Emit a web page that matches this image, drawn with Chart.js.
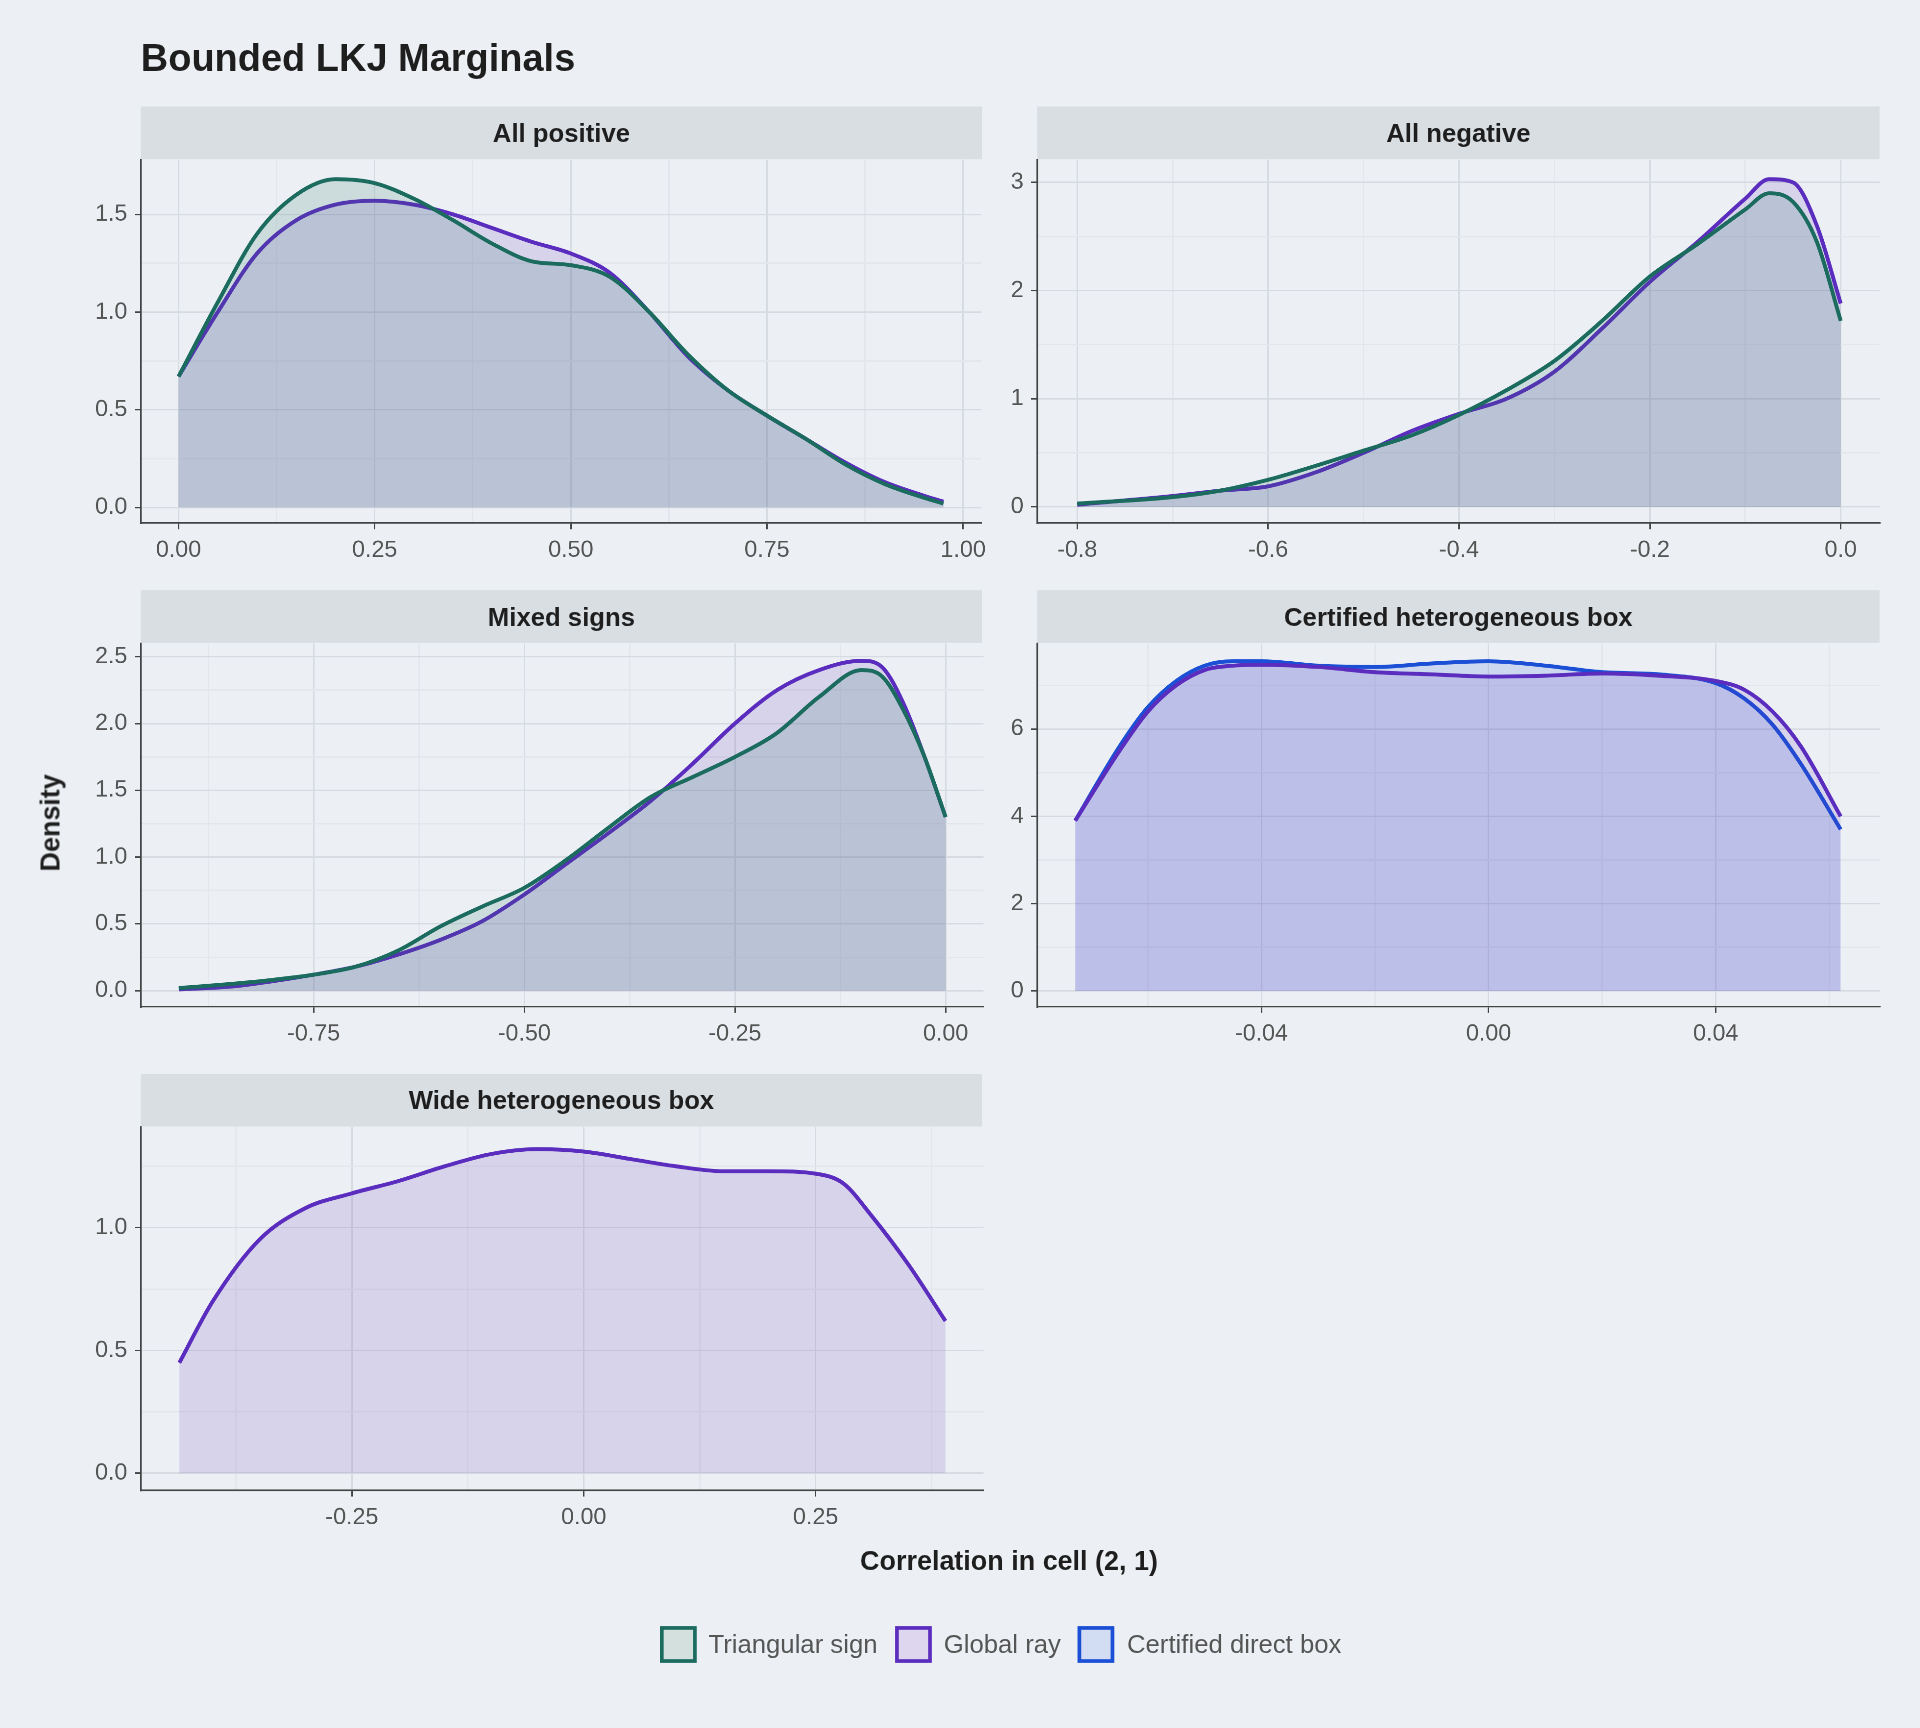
<!DOCTYPE html>
<html><head><meta charset="utf-8">
<script src="https://cdn.jsdelivr.net/npm/chart.js@4"></script>
<style>
body{margin:0;background:#ECF0F4;font-family:"Liberation Sans",Arial,sans-serif;}
#wrap{position:absolute;left:0;top:0;width:1568px;height:1411px;transform:scale(1.22449);transform-origin:0 0;}
.strip{position:absolute;height:43px;background:#D9DEE3;color:#1E1E1E;font-weight:bold;font-size:21px;display:flex;align-items:center;justify-content:center;}
.cv{position:absolute;width:771px;height:357px;}
#title{position:absolute;left:115px;top:30px;font-size:31px;font-weight:bold;color:#1E1E1E;}
#xl{position:absolute;left:0;width:1648px;top:1262px;text-align:center;font-size:22px;font-weight:bold;color:#1E1E1E;}
#yl{position:absolute;left:42px;top:672px;transform:translate(-50%,-50%) rotate(-90deg);font-size:22px;font-weight:bold;color:#1E1E1E;}
#legend{position:absolute;top:1328px;left:0;width:1648px;display:flex;justify-content:center;align-items:center;font-size:21px;color:#555;}
#legend span.b{display:inline-block;width:30px;height:30px;border:3px solid;margin:0 10px 0 0;box-sizing:border-box;}
#legend span.t{margin-right:14px;}
</style></head><body>
<div id="wrap">
<div id="title">Bounded LKJ Marginals</div>
<div class="strip" style="left:115px;top:87px;width:687px">All positive</div>
<div class="strip" style="left:847px;top:87px;width:688px">All negative</div>
<div class="strip" style="left:115px;top:482px;width:687px">Mixed signs</div>
<div class="strip" style="left:847px;top:482px;width:688px">Certified heterogeneous box</div>
<div class="strip" style="left:115px;top:877px;width:687px">Wide heterogeneous box</div>
<canvas class="cv" id="c1" style="left:40px;top:113px"></canvas>
<canvas class="cv" id="c2" style="left:772px;top:113px"></canvas>
<canvas class="cv" id="c3" style="left:40px;top:508px"></canvas>
<canvas class="cv" id="c4" style="left:772px;top:508px"></canvas>
<canvas class="cv" id="c5" style="left:40px;top:903px"></canvas>
<div id="yl">Density</div>
<div id="xl">Correlation in cell (2, 1)</div>
<div id="legend">
<span class="b" style="border-color:#1B6B5F;background:#D3E0DE"></span><span class="t">Triangular sign</span>
<span class="b" style="border-color:#5B2DBE;background:#DDD6EE"></span><span class="t">Global ray</span>
<span class="b" style="border-color:#1A4FD6;background:#D2DCF2"></span><span class="t">Certified direct box</span>
</div>
</div>
<script>
// 数据
const posX = [0,0.05,0.1,0.15,0.2,0.25,0.3,0.35,0.4,0.45,0.5,0.55,0.6,0.65,0.7,0.75,0.8,0.85,0.9,0.95,0.975];
const posTri = [0.67,1.05,1.4,1.6,1.68,1.66,1.58,1.47,1.35,1.26,1.24,1.18,1.0,0.78,0.6,0.47,0.35,0.22,0.12,0.05,0.02];
const posRay = [0.67,1.0,1.3,1.47,1.55,1.57,1.55,1.5,1.43,1.36,1.3,1.2,1.0,0.77,0.6,0.47,0.35,0.23,0.13,0.06,0.03];

const negX = [-0.8,-0.7,-0.65,-0.6,-0.55,-0.5,-0.45,-0.4,-0.35,-0.3,-0.25,-0.2,-0.15,-0.1,-0.075,-0.05,-0.025,0];
const negTri = [0.03,0.09,0.15,0.25,0.38,0.52,0.66,0.85,1.08,1.35,1.72,2.13,2.43,2.75,2.9,2.82,2.45,1.72];
const negRay = [0.02,0.1,0.15,0.19,0.32,0.5,0.7,0.86,1.0,1.25,1.65,2.08,2.45,2.85,3.03,3.0,2.6,1.88];

const mixX = [-0.91,-0.85,-0.8,-0.75,-0.7,-0.65,-0.6,-0.55,-0.5,-0.45,-0.4,-0.35,-0.3,-0.25,-0.2,-0.15,-0.1,-0.075,-0.05,-0.025,0];
const mixTri = [0.02,0.05,0.08,0.12,0.18,0.3,0.48,0.63,0.77,0.98,1.22,1.45,1.6,1.75,1.93,2.2,2.4,2.35,2.1,1.75,1.3];
const mixRay = [0.01,0.03,0.07,0.12,0.18,0.27,0.38,0.52,0.72,0.95,1.18,1.42,1.7,2.0,2.25,2.4,2.47,2.42,2.15,1.75,1.3];

const certX = [-0.0728,-0.065,-0.06,-0.055,-0.05,-0.045,-0.04,-0.03,-0.02,-0.01,0,0.01,0.02,0.03,0.04,0.045,0.05,0.055,0.062];
const certRay = [3.9,5.5,6.4,7.0,7.35,7.45,7.47,7.42,7.3,7.25,7.2,7.22,7.27,7.22,7.1,6.9,6.4,5.6,4.0];
const certBox = [3.9,5.6,6.5,7.1,7.45,7.55,7.55,7.45,7.42,7.5,7.55,7.45,7.3,7.25,7.05,6.7,6.1,5.2,3.7];

const wideX = [-0.436,-0.4,-0.35,-0.3,-0.25,-0.2,-0.15,-0.1,-0.05,0,0.05,0.1,0.15,0.2,0.25,0.28,0.31,0.35,0.39];
const wideRay = [0.45,0.7,0.95,1.08,1.14,1.19,1.25,1.3,1.32,1.31,1.28,1.25,1.23,1.23,1.22,1.18,1.05,0.85,0.62];

// 刻度 (major labelled, minor grid only)
const posXMajor = [0, 0.25, 0.5, 0.75, 1], posXMinor = [0.125, 0.375, 0.625, 0.875];
const posYMajor = [0, 0.5, 1, 1.5], posYMinor = [0.25, 0.75, 1.25];
const negXMajor = [-0.8, -0.6, -0.4, -0.2, 0], negXMinor = [-0.7, -0.5, -0.3, -0.1];
const negYMajor = [0, 1, 2, 3], negYMinor = [0.5, 1.5, 2.5];
const mixXMajor = [-0.75, -0.5, -0.25, 0], mixXMinor = [-0.875, -0.625, -0.375, -0.125];
const mixYMajor = [0, 0.5, 1, 1.5, 2, 2.5], mixYMinor = [0.25, 0.75, 1.25, 1.75, 2.25];
const certXMajor = [-0.04, 0, 0.04], certXMinor = [-0.06, -0.02, 0.02, 0.06];
const certYMajor = [0, 2, 4, 6], certYMinor = [1, 3, 5, 7];
const wideXMajor = [-0.25, 0, 0.25], wideXMinor = [-0.375, -0.125, 0.125, 0.375];
const wideYMajor = [0, 0.5, 1], wideYMinor = [0.25, 0.75, 1.25];

const GREEN = '#1B6B5F', PURPLE = '#5B2DBE', BLUE = '#1A4FD6';
const FILL = {[GREEN]: 'rgba(27,107,95,0.15)', [PURPLE]: 'rgba(91,45,190,0.15)', [BLUE]: 'rgba(26,79,214,0.15)'};

function series(xs, ys, color) {
    return {
        data: xs.map((x, i) => ({x: x, y: ys[i]})),
        borderColor: color, backgroundColor: FILL[color], fill: 'origin',
        borderWidth: 3.2, pointRadius: 0, tension: 0.4, cubicInterpolationMode: 'monotone'
    };
}

const inList = (v, list) => list.some(m => Math.abs(m - v) < 1e-9);

function axis(min, max, major, minor, dec, isY) {
    return {
        type: 'linear', min: min, max: max,
        border: {display: true, color: '#444', width: 1.3},
        afterBuildTicks: s => {
            s.ticks = major.concat(minor).sort((a, b) => a - b).map(v => ({value: v}));
        },
        grid: {
            color: c => inList(c.tick.value, major) ? '#D6DBE1' : '#E3E7EC',
            lineWidth: 1.2, tickLength: 5,
            tickColor: c => inList(c.tick.value, major) ? '#444' : 'rgba(0,0,0,0)'
        },
        ticks: {
            autoSkip: false, maxRotation: 0,
            color: '#555', font: {size: 19, family: '"Liberation Sans", Arial'}, padding: 6,
            callback: v => inList(v, major) ? (Math.abs(v) < 1e-9 ? 0 : v).toFixed(dec) : ''
        },
        afterFit: s => { if (isY) s.width = 75; else s.height = 43; }
    };
}

function panel(id, datasets, xa, ya) {
    const c = document.getElementById(id);
    c.width = 771; c.height = 357;
    new Chart(c, {
        type: 'line',
        data: {datasets: datasets},
        options: {
            responsive: false, animation: false, devicePixelRatio: 2.5,
            layout: {padding: {top: 0, right: 8, left: 0, bottom: 0}},
            plugins: {legend: {display: false}, tooltip: {enabled: false}},
            scales: {x: xa, y: ya}
        }
    });
}

panel('c1', [series(posX, posTri, GREEN), series(posX, posRay, PURPLE)],
    axis(-0.048, 1.023, posXMajor, posXMinor, 2, false), axis(-0.08, 1.78, posYMajor, posYMinor, 1, true));
panel('c2', [series(negX, negTri, GREEN), series(negX, negRay, PURPLE)],
    axis(-0.842, 0.041, negXMajor, negXMinor, 1, false), axis(-0.15, 3.21, negYMajor, negYMinor, 0, true));
panel('c3', [series(mixX, mixTri, GREEN), series(mixX, mixRay, PURPLE)],
    axis(-0.955, 0.045, mixXMajor, mixXMinor, 2, false), axis(-0.12, 2.6, mixYMajor, mixYMinor, 1, true));
panel('c4', [series(certX, certRay, PURPLE), series(certX, certBox, BLUE)],
    axis(-0.0795, 0.0689, certXMajor, certXMinor, 2, false), axis(-0.36, 7.96, certYMajor, certYMinor, 0, true));
panel('c5', [series(wideX, wideRay, PURPLE)],
    axis(-0.4775, 0.431, wideXMajor, wideXMinor, 2, false), axis(-0.07, 1.41, wideYMajor, wideYMinor, 1, true));
</script>
</body></html>
